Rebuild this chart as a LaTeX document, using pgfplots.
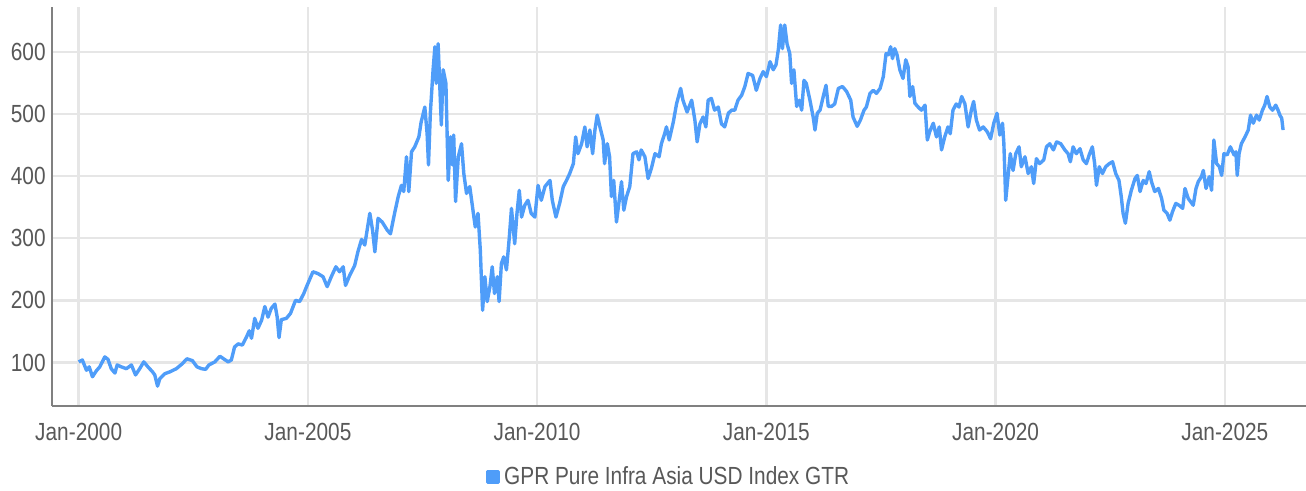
\documentclass[border=0pt]{standalone}
\usepackage{fontspec}
\setmainfont{Liberation Sans}[FakeStretch=0.84]
\usepackage{pgfplots}
\pgfplotsset{compat=1.18}
\definecolor{lineblue}{RGB}{79,157,249}
\definecolor{gridgray}{RGB}{230,230,230}
\definecolor{axisgray}{RGB}{128,128,128}
\definecolor{textgray}{RGB}{88,88,88}
\begin{document}
\begin{tikzpicture}
\begin{axis}[
  at={(0,0)}, anchor=south west,
  width=627pt, height=199.5pt, scale only axis,
  xmin=1999.418, xmax=2026.77, ymin=30, ymax=672,
  xtick={2000,2005,2010,2015,2020,2025},
  xticklabels={Jan-2000,Jan-2005,Jan-2010,Jan-2015,Jan-2020,Jan-2025},
  ytick={100,200,300,400,500,600},
  /pgf/number format/assume math mode=true,
  grid=major,
  major grid style={gridgray, line width=1.2pt},
  axis x line*=bottom, axis y line*=left,
  axis line style={axisgray, line width=1pt},
  major tick length=0pt,
  tick label style={text=textgray, font=\fontsize{12.4}{14}\selectfont},
  xticklabel style={anchor=center, yshift=-13pt},
  yticklabel style={anchor=east, inner sep=0pt, xshift=-3pt},
  legend style={at={(0.4924,-0.178)}, anchor=center, draw=none, fill=none,
    font=\fontsize{12.4}{14}\selectfont, text=textgray, inner sep=0pt},
  legend image code/.code={\fill[lineblue] (0pt,-2.75pt) rectangle (5.5pt,2.75pt);},
  legend cell align=left,
]
\addplot[lineblue, line width=1.7pt, line join=round] coordinates {
(2000.0,101)(2000.08,104)(2000.17,87.5)(2000.23,93)(2000.3,77)(2000.39,87)(2000.46,93)(2000.57,109)(2000.64,105)(2000.71,90)(2000.79,83)(2000.84,96)(2000.93,93)(2001.04,90)(2001.15,96)(2001.24,80)(2001.33,90)(2001.42,101)(2001.51,93)(2001.61,85)(2001.66,80)(2001.72,62)(2001.77,74)(2001.88,82)(2001.99,85)(2002.13,90)(2002.26,98)(2002.36,106)(2002.48,103)(2002.58,93)(2002.68,90)(2002.77,89)(2002.84,96)(2002.97,101)(2003.08,110)(2003.16,106)(2003.26,101)(2003.33,104)(2003.4,125)(2003.48,130)(2003.57,128)(2003.66,141)(2003.72,151)(2003.77,139)(2003.84,171)(2003.91,155)(2003.99,168)(2004.06,190)(2004.13,173)(2004.2,187)(2004.28,194)(2004.33,173)(2004.37,140)(2004.42,169)(2004.53,171)(2004.62,179)(2004.73,200)(2004.82,198)(2004.91,211)
(2004.97,222)(2005.11,246)(2005.22,243)(2005.33,238)(2005.42,222)(2005.51,238)(2005.61,254)(2005.69,246)(2005.77,254)(2005.82,224)(2005.91,240)(2006.02,256)(2006.09,278)(2006.17,298)(2006.24,289)(2006.35,340)(2006.41,313)(2006.46,278)(2006.53,332)(2006.62,326)(2006.73,313)(2006.8,307)(2006.89,340)(2006.97,367)(2007.04,385)(2007.09,375)(2007.15,431)(2007.2,375)(2007.26,439)(2007.33,447)(2007.42,463)(2007.47,487)(2007.55,511)(2007.6,468)(2007.63,418)(2007.67,501)(2007.73,571)(2007.77,608)(2007.8,549)(2007.84,613)(2007.88,538)(2007.91,482)(2007.95,571)(2008.01,549)(2008.06,393)(2008.11,463)(2008.15,418)(2008.18,466)(2008.22,359)(2008.28,431)(2008.35,452)(2008.4,404)(2008.46,372)(2008.53,383)(2008.6,345)(2008.65,318)(2008.71,340)(2008.76,281)(2008.81,184)(2008.86,238)(2008.91,198)(2008.97,222)(2009.02,254)(2009.07,211)(2009.13,238)(2009.17,198)(2009.22,259)(2009.27,270)(2009.33,249)(2009.39,299)(2009.44,348)(2009.51,291)(2009.56,340)(2009.61,377)(2009.66,334)(2009.73,353)(2009.8,361)(2009.87,340)(2009.95,334)(2010.02,385)(2010.09,361)(2010.17,383)(2010.28,393)(2010.33,361)(2010.41,334)(2010.49,356)(2010.57,383)(2010.64,393)(2010.71,404)(2010.79,420)(2010.84,463)(2010.89,436)(2010.97,452)(2011.04,479)(2011.09,447)(2011.15,474)(2011.21,436)(2011.26,474)(2011.31,498)(2011.37,479)
(2011.44,458)(2011.47,420)(2011.53,452)(2011.58,431)(2011.62,367)(2011.67,393)(2011.73,326)(2011.79,361)(2011.84,391)(2011.89,345)(2011.95,367)(2012.02,383)(2012.09,436)(2012.17,439)(2012.22,426)(2012.27,442)(2012.35,431)(2012.42,396)(2012.49,412)(2012.57,436)(2012.66,431)(2012.71,452)(2012.78,468)(2012.82,479)(2012.88,458)(2012.97,487)(2013.04,516)(2013.13,541)(2013.18,522)(2013.27,503)(2013.37,522)(2013.44,490)(2013.49,455)(2013.55,484)(2013.62,495)(2013.68,479)(2013.73,522)(2013.8,525)(2013.87,506)(2013.95,511)(2014.02,484)(2014.09,479)(2014.17,501)(2014.24,506)(2014.31,506)(2014.38,522)(2014.46,530)(2014.53,544)(2014.6,565)(2014.7,562)(2014.78,538)(2014.86,557)(2014.93,568)(2015.0,560)(2015.08,584)(2015.15,571)(2015.21,579)(2015.26,603)(2015.31,643)(2015.35,605)(2015.4,643)(2015.45,613)(2015.51,597)(2015.55,549)(2015.6,571)(2015.66,512)(2015.72,522)(2015.77,506)(2015.82,554)(2015.87,549)(2015.95,522)(2016.02,495)(2016.06,474)(2016.11,501)(2016.17,506)(2016.24,528)(2016.3,546)(2016.35,512)(2016.42,512)(2016.49,516)(2016.57,541)(2016.66,544)(2016.75,536)(2016.84,522)(2016.89,495)(2016.98,480)(2017.05,490)(2017.13,506)(2017.18,511)(2017.26,533)(2017.33,538)(2017.4,533)(2017.48,541)(2017.55,560)(2017.61,597)(2017.66,595)(2017.71,608)(2017.75,589)(2017.8,605)(2017.85,595)
(2017.91,571)(2017.98,557)(2018.04,587)(2018.09,576)(2018.13,528)(2018.19,544)(2018.24,517)(2018.31,511)(2018.38,506)(2018.46,514)(2018.51,458)(2018.56,471)(2018.64,485)(2018.71,463)(2018.77,479)(2018.82,442)(2018.89,463)(2018.96,479)(2019.01,468)(2019.07,506)(2019.14,516)(2019.2,511)(2019.26,528)(2019.33,516)(2019.4,479)(2019.47,506)(2019.52,520)(2019.58,490)(2019.65,474)(2019.73,479)(2019.82,471)(2019.89,460)(2019.96,485)(2020.03,501)(2020.09,466)(2020.15,485)(2020.18,452)(2020.22,361)(2020.27,399)(2020.32,436)(2020.38,409)(2020.44,436)(2020.51,447)(2020.56,415)(2020.64,431)(2020.71,404)(2020.78,415)(2020.83,388)(2020.89,428)(2020.96,420)(2021.05,426)(2021.11,447)(2021.18,452)(2021.26,442)(2021.33,455)(2021.42,452)(2021.51,442)(2021.58,436)(2021.63,423)(2021.69,447)(2021.76,436)(2021.84,444)(2021.91,426)(2021.98,420)(2022.05,436)(2022.11,447)(2022.16,420)(2022.2,385)(2022.26,415)(2022.33,404)(2022.4,415)(2022.48,420)(2022.55,423)(2022.62,404)(2022.69,393)(2022.74,367)(2022.78,340)(2022.83,324)(2022.89,356)(2022.96,377)(2023.04,396)(2023.09,401)(2023.15,375)(2023.22,393)(2023.28,388)(2023.35,407)(2023.4,391)(2023.47,375)(2023.55,380)(2023.62,364)(2023.67,345)(2023.74,340)(2023.8,329)(2023.86,343)(2023.93,356)(2024.0,353)(2024.08,348)(2024.13,380)(2024.2,364)(2024.25,359)(2024.31,353)(2024.37,380)(2024.42,391)(2024.49,399)(2024.53,409)(2024.59,380)(2024.66,399)(2024.71,377)(2024.76,458)(2024.82,420)(2024.88,415)(2024.93,401)(2024.98,436)(2025.05,434)(2025.12,447)(2025.2,434)(2025.24,439)(2025.27,401)(2025.31,436)(2025.36,452)(2025.44,463)(2025.51,474)(2025.56,498)(2025.62,485)(2025.69,498)(2025.75,490)(2025.82,506)(2025.87,514)(2025.92,528)(2025.98,511)(2026.04,506)(2026.11,514)(2026.16,506)(2026.2,498)(2026.24,493)(2026.27,474)
};
\addlegendentry{GPR Pure Infra Asia USD Index GTR}
\end{axis}
\pgfresetboundingbox
\path (-26pt,-42.5pt) rectangle (627pt,203pt);
\end{tikzpicture}
\end{document}
